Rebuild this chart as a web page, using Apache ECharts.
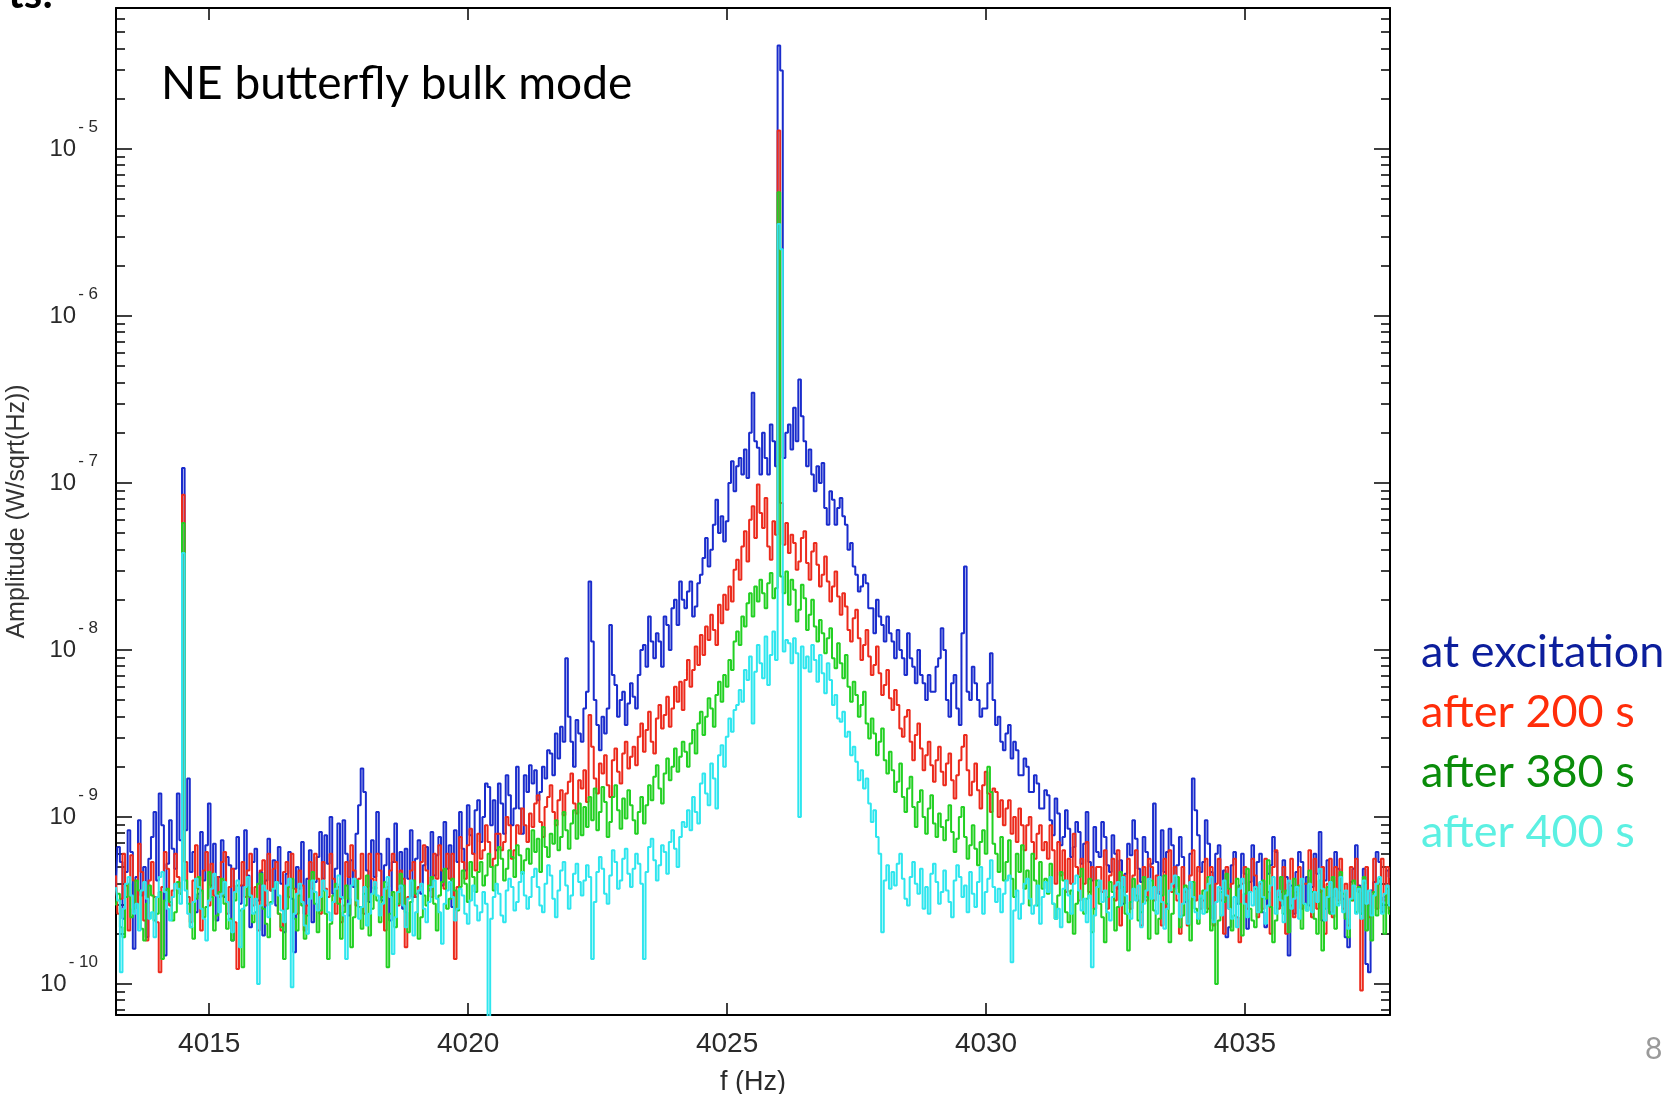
<!DOCTYPE html>
<html>
<head>
<meta charset="utf-8">
<script src="https://cdn.jsdelivr.net/npm/echarts@6/dist/echarts.min.js"></script>
<style>
html,body{margin:0;padding:0;background:#fff;}
#chart{width:1679px;height:1094px;}
</style>
</head>
<body>
<div id="chart"></div>
<script>
// ---------- DATA ----------
// frequency grid of the spectrum (Hz): 4013.20 ... 4037.80
const freqStart = 4013.2;
const freqStep = 0.05;
const seriesNames = ['at excitation', 'after 200 s', 'after 380 s', 'after 400 s'];
const xTickValues = [4015, 4020, 4025, 4030, 4035];
const yTickExponents = [-10, -9, -8, -7, -6, -5];
// amplitude, stored as log10 of W/sqrt(Hz) (20 values per Hz)
const blueLog = [
-9.42,-9.18,-9.27,-9.61,-9.33,-9.08,-9.21,-9.79,-9.36,-9.02,-9.47,-9.30,-9.72,-9.25,-9.12,-8.97,-9.38,-8.86,-9.05,-9.83,
-9.28,-9.02,-9.19,-9.31,-8.86,-9.14,-6.91,-9.08,-8.77,-9.33,-9.21,-9.57,-9.46,-9.09,-9.38,-9.17,-8.92,-9.41,-9.16,-9.62,
-9.36,-9.14,-9.48,-9.24,-9.29,-9.74,-9.31,-9.12,-9.52,-9.41,-9.08,-9.35,-9.66,-9.27,-9.19,-9.50,-9.33,-9.71,-9.38,-9.13,
-9.44,-9.26,-9.53,-9.18,-9.40,-9.69,-9.34,-9.21,-9.49,-9.81,-9.30,-9.43,-9.15,-9.58,-9.37,-9.20,-9.63,-9.39,-9.24,-9.09,
-9.37,-9.11,-9.28,-9.00,-9.46,-9.31,-9.04,-9.49,-9.02,-9.22,-9.59,-9.26,-9.42,-9.10,-8.93,-8.71,-8.85,-9.32,-9.51,-9.14,
-9.36,-8.97,-9.22,-9.50,-9.29,-9.13,-9.62,-9.27,-9.04,-9.43,-9.21,-9.55,-9.19,-9.37,-9.08,-9.48,-9.25,-9.14,-9.46,-9.29,
-9.18,-9.44,-9.09,-9.35,-9.23,-9.12,-9.41,-9.03,-9.31,-9.17,-9.54,-9.08,-9.27,-8.97,-9.19,-9.32,-8.93,-9.11,-9.22,-8.96,
-8.90,-9.15,-9.00,-8.80,-8.82,-9.05,-8.90,-9.20,-8.80,-8.92,-9.10,-8.75,-8.87,-9.05,-8.95,-8.70,-8.95,-9.10,-8.75,-8.85,
-8.69,-8.80,-8.72,-8.90,-8.85,-8.70,-8.77,-8.60,-8.62,-8.75,-8.50,-8.65,-8.46,-8.55,-8.05,-8.40,-8.55,-8.70,-8.42,-8.50,
-8.55,-8.35,-8.25,-7.59,-7.95,-8.30,-8.45,-8.60,-8.40,-8.50,-8.35,-7.85,-8.15,-8.21,-8.40,-8.30,-8.25,-8.45,-8.32,-8.20,
-8.28,-8.35,-8.15,-8.00,-7.97,-8.10,-7.80,-7.95,-8.05,-7.90,-7.95,-8.10,-7.80,-7.85,-8.00,-7.75,-7.70,-7.85,-7.59,-7.70,
-7.75,-7.65,-7.59,-7.80,-7.74,-7.60,-7.55,-7.45,-7.33,-7.50,-7.40,-7.25,-7.10,-7.30,-7.20,-7.35,-7.23,-7.00,-6.87,-7.05,
-6.90,-6.85,-6.95,-6.80,-6.97,-6.70,-6.46,-6.75,-6.79,-6.95,-6.70,-6.85,-6.95,-6.65,-6.75,-6.90,-4.38,-4.53,-6.85,-6.70,
-6.65,-6.80,-6.55,-6.75,-6.38,-6.60,-6.75,-6.90,-6.80,-6.95,-7.05,-6.90,-7.00,-6.88,-7.15,-7.25,-7.05,-7.10,-7.25,-7.15,
-7.09,-7.20,-7.25,-7.40,-7.36,-7.50,-7.55,-7.65,-7.62,-7.55,-7.60,-7.75,-7.75,-7.90,-7.70,-7.80,-7.85,-7.95,-7.80,-7.90,
-7.95,-8.05,-7.88,-8.00,-8.05,-8.15,-7.90,-8.05,-8.10,-8.20,-8.00,-8.15,-8.20,-8.30,-8.15,-8.25,-8.25,-8.10,-8.05,-7.87,
-8.00,-8.30,-8.40,-8.20,-8.15,-8.35,-8.45,-7.90,-7.50,-8.25,-8.30,-8.10,-8.20,-8.30,-8.40,-8.35,-8.35,-8.20,-8.02,-8.30,
-8.45,-8.40,-8.55,-8.60,-8.50,-8.45,-8.65,-8.55,-8.60,-8.75,-8.75,-8.65,-8.70,-8.85,-8.85,-8.75,-8.80,-8.95,-8.95,-8.84,
-8.87,-9.02,-9.11,-8.89,-8.98,-9.17,-9.12,-8.96,-9.07,-9.24,-9.18,-9.03,-9.09,-9.28,-9.16,-8.97,-9.27,-9.38,-9.06,-9.21,
-9.24,-9.03,-9.12,-9.29,-9.33,-9.11,-9.22,-9.43,-9.26,-9.52,-9.34,-9.16,-9.23,-9.02,-9.13,-9.31,-9.39,-9.12,-9.21,-9.37,
-9.28,-8.92,-9.27,-9.46,-9.08,-9.33,-9.21,-9.07,-9.17,-9.42,-9.29,-9.12,-9.24,-9.51,-9.43,-9.22,-8.77,-8.96,-9.11,-9.33,
-9.27,-9.02,-9.16,-9.33,-9.61,-9.22,-9.17,-9.43,-9.32,-9.72,-9.66,-9.29,-9.21,-9.52,-9.41,-9.22,-9.34,-9.67,-9.39,-9.17,
-9.43,-9.27,-9.22,-9.57,-9.66,-9.34,-9.29,-9.12,-9.21,-9.48,-9.53,-9.26,-9.36,-9.83,-9.41,-9.58,-9.33,-9.21,-9.27,-9.52,
-9.36,-9.53,-9.42,-9.22,-9.34,-9.09,-9.62,-9.38,-9.26,-9.57,-9.48,-9.21,-9.31,-9.44,-9.49,-9.72,-9.78,-9.39,-9.31,-9.17,
-9.41,-9.58,-9.31,-9.88,-9.93,-9.44,-9.39,-9.21,-9.27,-9.57,-9.48,-9.32,-9.36
];
const redLog = [
-9.35,-9.58,-9.49,-9.22,-9.41,-9.68,-9.23,-9.38,-9.52,-9.16,-9.33,-9.62,-9.74,-9.38,-9.27,-9.48,-9.63,-9.93,-9.42,-9.21,
-9.31,-9.53,-9.44,-9.22,-9.36,-9.46,-7.07,-9.27,-9.48,-9.63,-9.38,-9.17,-9.43,-9.68,-9.32,-9.21,-9.53,-9.28,-9.47,-9.36,
-9.48,-9.27,-9.21,-9.58,-9.42,-9.31,-9.63,-9.91,-9.41,-9.27,-9.48,-9.32,-9.22,-9.53,-9.42,-9.68,-9.32,-9.26,-9.53,-9.22,
-9.44,-9.31,-9.27,-9.58,-9.68,-9.33,-9.27,-9.48,-9.22,-9.43,-9.58,-9.32,-9.41,-9.68,-9.53,-9.27,-9.43,-9.22,-9.37,-9.58,
-9.27,-9.43,-9.48,-9.22,-9.37,-9.58,-9.42,-9.63,-9.53,-9.27,-9.36,-9.17,-9.32,-9.53,-9.37,-9.22,-9.58,-9.42,-9.22,-9.37,
-9.43,-9.22,-9.32,-9.48,-9.68,-9.42,-9.32,-9.22,-9.27,-9.53,-9.32,-9.37,-9.78,-9.48,-9.32,-9.27,-9.48,-9.42,-9.27,-9.17,
-9.32,-9.43,-9.48,-9.22,-9.37,-9.17,-9.32,-9.43,-9.22,-9.37,-9.22,-9.85,-9.42,-9.12,-9.27,-9.37,-9.17,-9.07,-9.22,-9.32,
-9.10,-9.25,-9.20,-9.05,-9.15,-9.30,-9.25,-9.10,-9.10,-9.20,-9.15,-9.00,-9.05,-9.25,-9.20,-9.05,-9.10,-8.95,-9.05,-9.15,
-8.98,-9.06,-8.92,-8.87,-9.03,-9.12,-8.94,-8.88,-8.81,-8.97,-9.05,-8.90,-8.84,-8.99,-8.86,-8.79,-8.74,-8.92,-8.98,-8.78,
-8.83,-8.72,-8.91,-8.39,-8.58,-8.77,-8.86,-8.68,-8.74,-8.63,-8.81,-8.88,-8.66,-8.59,-8.73,-8.80,-8.62,-8.55,-8.71,-8.64,
-8.58,-8.69,-8.52,-8.44,-8.61,-8.48,-8.37,-8.55,-8.62,-8.41,-8.33,-8.47,-8.39,-8.28,-8.46,-8.35,-8.22,-8.31,-8.19,-8.36,
-8.18,-8.06,-8.22,-8.12,-7.98,-8.09,-7.91,-8.03,-7.86,-7.94,-7.79,-7.88,-7.97,-7.73,-7.84,-7.67,-7.76,-7.62,-7.71,-7.52,
-7.46,-7.58,-7.38,-7.29,-7.47,-7.22,-7.14,-7.33,-7.01,-7.18,-7.27,-7.09,-7.38,-7.46,-7.23,-7.31,-4.89,-7.12,-7.37,-7.24,
-7.42,-7.31,-7.36,-7.52,-7.47,-7.33,-7.29,-7.48,-7.58,-7.41,-7.36,-7.49,-7.62,-7.55,-7.44,-7.59,-7.71,-7.62,-7.53,-7.68,
-7.79,-7.66,-7.74,-7.88,-7.95,-7.81,-7.76,-7.93,-8.06,-7.97,-7.88,-8.04,-8.15,-8.09,-7.98,-8.14,-8.27,-8.21,-8.12,-8.29,
-8.36,-8.24,-8.33,-8.47,-8.52,-8.40,-8.36,-8.55,-8.66,-8.51,-8.44,-8.59,-8.72,-8.63,-8.55,-8.69,-8.79,-8.66,-8.58,-8.73,
-8.81,-8.68,-8.62,-8.78,-8.89,-8.75,-8.66,-8.58,-8.51,-8.72,-8.87,-8.79,-8.68,-8.84,-8.95,-8.81,-8.73,-8.86,-8.97,-8.83,
-8.85,-9.00,-8.90,-9.05,-8.95,-8.90,-9.10,-9.00,-9.15,-8.95,-9.05,-9.20,-9.05,-9.00,-9.15,-9.25,-9.10,-9.05,-9.20,-9.15,
-9.25,-9.05,-9.20,-9.40,-9.15,-9.35,-9.20,-9.45,-9.25,-9.40,-9.10,-9.30,-9.50,-9.25,-9.40,-9.15,-9.45,-9.30,-9.55,-9.30,
-9.30,-9.45,-9.20,-9.55,-9.35,-9.25,-9.50,-9.20,-9.65,-9.35,-9.45,-9.25,-9.55,-9.35,-9.20,-9.50,-9.65,-9.30,-9.50,-9.25,
-9.30,-9.50,-9.35,-9.45,-9.65,-9.25,-9.55,-9.20,-9.45,-9.30,-9.50,-9.70,-9.30,-9.45,-9.65,-9.35,-9.20,-9.50,-9.30,-9.55,
-9.50,-9.25,-9.55,-9.30,-9.65,-9.40,-9.25,-9.50,-9.70,-9.30,-9.55,-9.40,-9.25,-9.60,-9.75,-9.40,-9.30,-9.55,-9.45,-9.25,
-9.35,-9.60,-9.40,-9.55,-9.25,-9.45,-9.70,-9.30,-9.20,-9.55,-9.45,-9.30,-9.70,-9.40,-9.25,-9.60,-9.45,-9.30,-9.55,-9.40,
-9.40,-9.20,-9.60,-9.25,-9.55,-9.45,-9.30,-9.70,-9.40,-9.25,-9.60,-9.30,-9.50,-9.25,-9.55,-9.40,-9.65,-9.30,-9.50,-9.25,
-9.45,-10.04,-9.40,-9.30,-9.60,-9.45,-9.25,-9.55,-9.40,-9.25,-9.50,-9.30,-9.55
];
const greenLog = [
-9.53,-9.46,-9.66,-9.72,-9.48,-9.40,-9.60,-9.55,-9.38,-9.44,-9.67,-9.74,-9.52,-9.41,-9.47,-9.62,-9.58,-9.45,-9.85,-9.50,
-9.43,-9.51,-9.62,-9.57,-9.39,-9.46,-7.24,-9.38,-9.52,-9.66,-9.73,-9.49,-9.36,-9.44,-9.60,-9.54,-9.33,-9.48,-9.68,-9.59,
-9.45,-9.37,-9.52,-9.67,-9.61,-9.74,-9.50,-9.41,-9.56,-9.90,-9.53,-9.42,-9.48,-9.63,-9.57,-9.40,-9.34,-9.55,-9.64,-9.72,
-9.51,-9.43,-9.39,-9.58,-9.66,-9.85,-9.55,-9.42,-9.37,-9.61,-9.68,-9.47,-9.53,-9.73,-9.59,-9.38,-9.33,-9.52,-9.69,-9.56,
-9.44,-9.58,-9.85,-9.64,-9.47,-9.40,-9.52,-9.73,-9.57,-9.41,-9.49,-9.78,-9.60,-9.38,-9.54,-9.67,-9.46,-9.35,-9.71,-9.55,
-9.42,-9.50,-9.63,-9.48,-9.39,-9.90,-9.58,-9.45,-9.66,-9.52,-9.34,-9.41,-9.57,-9.69,-9.51,-9.38,-9.46,-9.73,-9.60,-9.47,
-9.53,-9.41,-9.36,-9.52,-9.68,-9.47,-9.39,-9.31,-9.55,-9.49,-9.37,-9.44,-9.56,-9.42,-9.32,-9.40,-9.51,-9.27,-9.36,-9.45,
-9.33,-9.27,-9.41,-9.35,-9.22,-9.30,-9.44,-9.29,-9.18,-9.25,-9.38,-9.31,-9.20,-9.24,-9.36,-9.17,-9.23,-9.34,-9.26,-9.19,
-9.28,-9.08,-9.21,-9.13,-9.33,-9.06,-9.18,-9.24,-9.10,-9.16,-9.02,-9.20,-9.12,-8.97,-9.08,-9.19,-9.04,-8.96,-9.13,-8.92,
-9.11,-8.94,-9.06,-8.88,-9.02,-8.83,-9.08,-8.97,-8.82,-8.91,-9.12,-9.03,-8.88,-8.81,-8.96,-9.07,-8.89,-9.01,-8.84,-8.93,
-9.02,-9.10,-8.97,-8.88,-9.04,-8.93,-8.81,-8.90,-8.76,-8.69,-8.83,-8.92,-8.74,-8.65,-8.78,-8.70,-8.59,-8.73,-8.64,-8.55,
-8.61,-8.70,-8.56,-8.48,-8.62,-8.44,-8.37,-8.51,-8.40,-8.29,-8.35,-8.46,-8.27,-8.19,-8.31,-8.15,-8.22,-8.06,-8.12,-7.95,
-7.89,-7.97,-7.80,-7.86,-7.72,-7.66,-7.80,-7.62,-7.71,-7.58,-7.66,-7.75,-7.60,-7.54,-7.69,-7.63,-5.26,-7.56,-7.66,-7.53,
-7.73,-7.58,-7.64,-7.83,-7.76,-7.61,-7.69,-7.88,-7.79,-7.70,-7.86,-7.95,-7.82,-7.90,-8.02,-7.93,-7.87,-8.05,-8.11,-7.96,
-8.08,-8.17,-8.03,-8.22,-8.31,-8.19,-8.27,-8.40,-8.33,-8.25,-8.44,-8.53,-8.41,-8.50,-8.63,-8.55,-8.47,-8.66,-8.74,-8.61,
-8.72,-8.85,-8.79,-8.68,-8.88,-8.97,-8.83,-8.76,-8.94,-9.06,-8.91,-8.84,-9.00,-9.10,-8.95,-8.87,-9.04,-9.12,-8.98,-9.06,
-9.14,-9.02,-8.93,-9.09,-9.21,-9.13,-9.00,-8.94,-9.12,-9.25,-9.17,-9.05,-9.19,-9.29,-9.15,-9.08,-9.22,-8.70,-8.85,-9.16,
-9.22,-9.33,-9.12,-9.38,-9.27,-9.14,-9.37,-9.48,-9.22,-9.33,-9.17,-9.43,-9.32,-9.53,-9.22,-9.38,-9.53,-9.27,-9.43,-9.37,
-9.46,-9.28,-9.52,-9.61,-9.47,-9.33,-9.38,-9.57,-9.63,-9.44,-9.70,-9.52,-9.36,-9.31,-9.58,-9.49,-9.37,-9.69,-9.55,-9.38,
-9.52,-9.60,-9.75,-9.48,-9.39,-9.45,-9.68,-9.54,-9.33,-9.42,-9.58,-9.80,-9.51,-9.37,-9.47,-9.62,-9.57,-9.36,-9.48,-9.73,
-9.38,-9.56,-9.70,-9.61,-9.47,-9.35,-9.52,-9.75,-9.58,-9.43,-9.36,-9.66,-9.59,-9.41,-9.50,-9.74,-9.39,-9.55,-9.64,-9.49,
-9.44,-9.57,-9.36,-9.68,-9.53,-10.00,-9.62,-9.45,-9.51,-9.34,-9.43,-9.68,-9.59,-9.37,-9.52,-9.71,-9.46,-9.31,-9.55,-9.62,
-9.66,-9.43,-9.57,-9.38,-9.49,-9.26,-9.54,-9.75,-9.62,-9.48,-9.36,-9.58,-9.44,-9.69,-9.53,-9.37,-9.47,-9.41,-9.67,-9.52,
-9.56,-9.32,-9.45,-9.61,-9.70,-9.38,-9.80,-9.55,-9.42,-9.58,-9.36,-9.67,-9.52,-9.33,-9.46,-9.61,-9.72,-9.50,-9.38,-9.57,
-9.42,-9.58,-9.36,-9.68,-9.53,-9.74,-9.45,-9.59,-9.37,-9.52,-9.70,-9.43,-9.58
];
const cyanLog = [
-9.42,-9.50,-9.93,-9.55,-9.40,-9.36,-9.47,-9.58,-9.52,-9.68,-9.44,-9.39,-9.49,-9.61,-9.57,-9.72,-9.48,-9.36,-9.33,-9.45,
-9.55,-9.62,-9.48,-9.40,-9.43,-9.52,-7.42,-9.44,-9.58,-9.66,-9.51,-9.37,-9.42,-9.55,-9.61,-9.74,-9.50,-9.43,-9.34,-9.47,
-9.57,-9.46,-9.39,-9.51,-9.62,-9.69,-9.45,-9.38,-9.78,-9.55,-9.42,-9.36,-9.47,-9.58,-9.49,-10.00,-9.53,-9.41,-9.44,-9.60,
-9.52,-9.43,-9.39,-9.47,-9.56,-9.63,-9.41,-9.37,-10.02,-9.58,-9.46,-9.40,-9.51,-9.65,-9.70,-9.49,-9.38,-9.45,-9.56,-9.48,
-9.38,-9.44,-9.57,-9.62,-9.51,-9.43,-9.35,-9.48,-9.59,-9.85,-9.52,-9.41,-9.37,-9.50,-9.61,-9.54,-9.42,-9.65,-9.58,-9.46,
-9.39,-9.47,-9.59,-9.52,-9.43,-9.36,-9.48,-9.82,-9.60,-9.45,-9.41,-9.53,-9.66,-9.49,-9.38,-9.71,-9.57,-9.44,-9.40,-9.55,
-9.63,-9.51,-9.42,-9.38,-9.49,-9.57,-9.76,-9.52,-9.44,-9.39,-9.48,-9.62,-9.55,-9.43,-9.47,-9.58,-9.64,-9.50,-9.41,-9.53,
-9.62,-9.57,-9.45,-9.52,-10.20,-9.61,-9.48,-9.40,-9.46,-9.59,-9.63,-9.44,-9.37,-9.42,-9.56,-9.51,-9.39,-9.33,-9.47,-9.55,
-9.48,-9.36,-9.31,-9.42,-9.53,-9.57,-9.40,-9.29,-9.35,-9.49,-9.60,-9.44,-9.32,-9.27,-9.41,-9.55,-9.47,-9.34,-9.28,-9.39,
-9.47,-9.38,-9.29,-9.36,-9.85,-9.51,-9.33,-9.24,-9.31,-9.46,-9.52,-9.35,-9.20,-9.27,-9.43,-9.38,-9.25,-9.19,-9.34,-9.42,
-9.31,-9.22,-9.28,-9.40,-9.85,-9.33,-9.18,-9.13,-9.26,-9.38,-9.29,-9.17,-9.21,-9.34,-9.15,-9.08,-9.19,-9.30,-9.12,-9.03,
-9.06,-8.96,-9.08,-8.88,-8.97,-9.04,-8.80,-8.74,-8.86,-8.93,-8.68,-8.77,-8.95,-8.63,-8.57,-8.70,-8.52,-8.41,-8.49,-8.36,
-8.33,-8.24,-8.31,-8.12,-8.18,-8.04,-8.44,-8.13,-7.97,-8.08,-8.17,-7.92,-8.21,-8.03,-7.89,-8.06,-5.45,-5.60,-8.01,-7.94,
-7.96,-8.08,-7.93,-8.02,-9.00,-7.98,-8.11,-8.04,-8.13,-7.97,-8.06,-8.19,-8.03,-8.14,-8.26,-8.08,-8.18,-8.33,-8.27,-8.41,
-8.43,-8.37,-8.52,-8.49,-8.63,-8.58,-8.67,-8.78,-8.72,-8.83,-8.77,-8.92,-9.03,-8.96,-9.12,-9.22,-9.69,-9.38,-9.29,-9.43,
-9.33,-9.41,-9.28,-9.22,-9.37,-9.49,-9.53,-9.36,-9.27,-9.40,-9.46,-9.31,-9.55,-9.42,-9.58,-9.34,-9.28,-9.39,-9.52,-9.45,
-9.32,-9.44,-9.51,-9.60,-9.38,-9.29,-9.36,-9.48,-9.41,-9.57,-9.33,-9.46,-9.54,-9.39,-9.30,-9.58,-9.45,-9.37,-9.26,-9.42,
-9.51,-9.43,-9.57,-9.46,-9.38,-9.35,-9.87,-9.56,-9.44,-9.61,-9.52,-9.40,-9.37,-9.49,-9.58,-9.53,-9.41,-9.64,-9.48,-9.39,
-9.45,-9.36,-9.52,-9.61,-9.55,-9.66,-9.43,-9.38,-9.47,-9.58,-9.40,-9.35,-9.44,-9.56,-9.49,-9.63,-9.47,-9.90,-9.59,-9.42,
-9.38,-9.51,-9.44,-9.57,-9.62,-9.48,-9.41,-9.39,-9.53,-9.36,-9.47,-9.58,-9.61,-9.43,-9.50,-9.41,-9.66,-9.52,-9.44,-9.37,
-9.49,-9.42,-9.58,-9.36,-9.51,-9.67,-9.55,-9.44,-9.40,-9.35,-9.46,-9.60,-9.52,-9.43,-9.64,-9.39,-9.48,-9.57,-9.61,-9.47,
-9.58,-9.44,-9.40,-9.36,-9.63,-9.51,-9.42,-9.59,-9.38,-9.47,-9.55,-9.61,-9.48,-9.66,-9.43,-9.37,-9.52,-9.60,-9.45,-9.53,
-9.42,-9.57,-9.39,-9.48,-9.64,-9.53,-9.41,-9.36,-9.58,-9.44,-9.50,-9.63,-9.47,-9.38,-9.55,-9.49,-9.42,-9.61,-9.37,-9.52,
-9.56,-9.40,-9.57,-9.45,-9.51,-9.31,-9.43,-9.62,-9.48,-9.39,-9.58,-9.43,-9.53,-9.36,-9.57,-9.44,-9.67,-9.49,-9.41,-9.58,
-9.43,-9.61,-9.38,-9.52,-9.44,-9.59,-9.47,-9.40,-9.36,-9.58,-9.46,-9.41,-9.53
];
const lineColors = ['#1a2ccc', '#ec2a1c', '#22d022', '#2ee6ee'];
const legendColors = ['#0c1e9c', '#ff2d0a', '#0a8c0a', '#5cf0e2'];

// ---------- CHART ----------
const xMin = 4013.2, xMax = 4037.8;
const yMin = -10.186, yMax = -4.156;
const minorTicks = [];
for (let n = -11; n <= -5; n++) {
  for (let k = 2; k <= 9; k++) {
    const t = n + Math.log10(k);
    if (t > yMin && t < yMax) minorTicks.push(t);
  }
}
function toPoints(arr) {
  return arr.map((v, i) => [+(freqStart + i * freqStep).toFixed(2), v]);
}
const allLogs = [blueLog, redLog, greenLog, cyanLog];

const axisLineStyle = { show: true, onZero: false, lineStyle: { color: '#000', width: 2 } };
const tickStyle = { color: '#000', width: 1.5 };

const chart = echarts.init(document.getElementById('chart'), null, { renderer: 'canvas' });
chart.setOption({
  animation: false,
  backgroundColor: '#ffffff',
  grid: { left: 116, right: 289, top: 8, bottom: 79, containLabel: false, outerBoundsMode: 'none' },
  legend: {
    orient: 'vertical',
    left: 1411, top: 617,
    itemWidth: 0, itemHeight: 0, itemGap: 0,
    icon: 'rect',
    selectedMode: false,
    textStyle: { fontFamily: 'Lato', fontSize: 45, lineHeight: 60 },
    data: seriesNames.map((n, i) => ({ name: n, textStyle: { color: legendColors[i] } }))
  },
  xAxis: [
    {
      type: 'value', min: xMin, max: xMax, position: 'bottom',
      axisLine: axisLineStyle,
      axisTick: { show: true, inside: true, length: 12, lineStyle: tickStyle, customValues: xTickValues },
      axisLabel: { show: true, customValues: xTickValues, margin: 15, color: '#2a2a2a', fontFamily: 'Liberation Sans', fontSize: 28,
                   formatter: v => String(Math.round(v)) },
      splitLine: { show: false },
      name: 'f (Hz)', nameLocation: 'middle', nameGap: 54,
      nameTextStyle: { color: '#2a2a2a', fontFamily: 'Liberation Sans', fontSize: 27 }
    },
    {
      type: 'value', min: xMin, max: xMax, position: 'top',
      axisLine: axisLineStyle,
      axisTick: { show: true, inside: true, length: 12, lineStyle: tickStyle, customValues: xTickValues },
      axisLabel: { show: false },
      splitLine: { show: false }
    }
  ],
  yAxis: [
    {
      type: 'value', min: yMin, max: yMax, position: 'left',
      axisLine: axisLineStyle,
      axisTick: { show: true, inside: true, length: 16, lineStyle: tickStyle, customValues: yTickExponents },
      axisLabel: {
        show: true, customValues: yTickExponents, margin: 18,
        formatter: v => '{b|10}{s|- ' + Math.abs(Math.round(v)) + '}',
        rich: {
          b: { fontFamily: 'Liberation Sans', fontSize: 24, color: '#2a2a2a' },
          s: { fontFamily: 'Liberation Sans', fontSize: 17, color: '#2a2a2a', padding: [0, 0, 44, 2] }
        }
      },
      splitLine: { show: false },
      name: 'Amplitude (W/sqrt(Hz))', nameLocation: 'middle', nameGap: 65, nameRotate: 90,
      nameTextStyle: { color: '#333', fontFamily: 'Liberation Sans', fontSize: 25 }
    },
    {
      type: 'value', min: yMin, max: yMax, position: 'left', offset: 0,
      axisLine: { show: false },
      axisTick: { show: true, inside: true, length: 9, lineStyle: tickStyle, customValues: minorTicks },
      axisLabel: { show: false },
      splitLine: { show: false }
    },
    {
      type: 'value', min: yMin, max: yMax, position: 'right', offset: 0,
      axisLine: axisLineStyle,
      axisTick: { show: true, inside: true, length: 16, lineStyle: tickStyle, customValues: yTickExponents },
      axisLabel: { show: false },
      splitLine: { show: false }
    },
    {
      type: 'value', min: yMin, max: yMax, position: 'right', offset: 0,
      axisLine: { show: false },
      axisTick: { show: true, inside: true, length: 9, lineStyle: tickStyle, customValues: minorTicks },
      axisLabel: { show: false },
      splitLine: { show: false }
    }
  ],
  graphic: [
    { type: 'text', left: 161, top: 61, style: { text: 'NE butterfly bulk mode', font: '46px Lato', fill: '#000' } },
    { type: 'text', left: 1645, top: 1034, style: { text: '8', font: '30px Lato', fill: '#9a9a9a' } },
    { type: 'text', x: 53, y: -6, style: { text: 'ts:', font: 'bold 42px Lato', fill: '#000', align: 'right', verticalAlign: 'middle' } }
  ],
  series: allLogs.map((arr, i) => ({
    name: seriesNames[i],
    type: 'line',
    step: 'middle',
    xAxisIndex: 0, yAxisIndex: 0,
    data: toPoints(arr),
    showSymbol: false,
    symbol: 'none',
    lineStyle: { color: lineColors[i], width: 2 },
    itemStyle: { color: lineColors[i] },
    clip: true,
    z: 2 + i
  }))
});
allLogs.forEach((a, i) => { if (a.length !== 493) throw new Error('length of series ' + i + ' is ' + a.length); });
</script>
</body>
</html>
